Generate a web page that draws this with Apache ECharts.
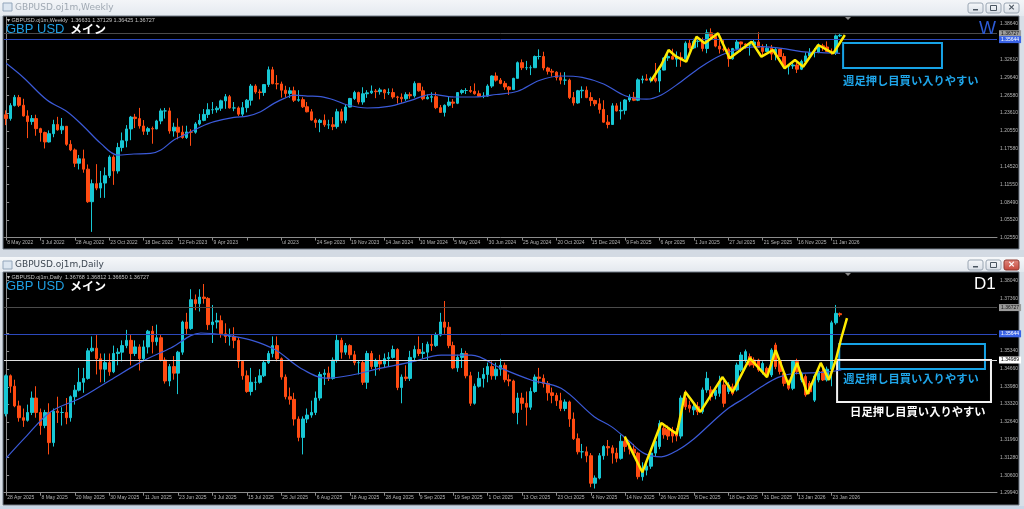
<!DOCTYPE html>
<html><head><meta charset="utf-8">
<script src="https://cdn.jsdelivr.net/npm/echarts@6/dist/echarts.min.js"></script>
<style>html,body{margin:0;padding:0;background:#d8dfe7;overflow:hidden}#c{width:1024px;height:509px}</style>
</head><body><div id="c"></div>
<script>
// ---------------- DATA ----------------
// weekly candles [open, close, low, high], first = week of 8 May 2022
const weeklyCandles = [
[1.2330,1.2265,1.2155,1.2405],[1.2265,1.2485,1.2230,1.2525],[1.2485,1.2625,1.2470,1.2665],[1.2620,1.2490,1.2460,1.2665],
[1.2490,1.2310,1.2300,1.2600],[1.2310,1.2215,1.1935,1.2406],[1.2215,1.2265,1.2160,1.2325],[1.2265,1.2095,1.1975,1.2330],
[1.2095,1.2030,1.1875,1.2110],[1.2030,1.1870,1.1760,1.2045],[1.1870,1.2010,1.1860,1.2065],[1.2010,1.2165,1.1950,1.2245],
[1.2165,1.2075,1.2060,1.2295],[1.2075,1.2135,1.2005,1.2275],[1.2135,1.1830,1.1805,1.2140],[1.1830,1.1735,1.1715,1.1900],
[1.1735,1.1510,1.1445,1.1760],[1.1510,1.1585,1.1405,1.1650],[1.1585,1.1410,1.1350,1.1740],[1.1410,1.0860,1.0840,1.1490],
[1.0860,1.1165,1.0350,1.1235],[1.1165,1.1090,1.1055,1.1495],[1.1090,1.1175,1.0925,1.1380],[1.1175,1.1300,1.0925,1.1440],
[1.1300,1.1615,1.1260,1.1645],[1.1615,1.1380,1.1145,1.1645],[1.1380,1.1775,1.1335,1.1855],[1.1775,1.1890,1.1710,1.2030],
[1.1890,1.2090,1.1780,1.2155],[1.2090,1.2290,1.1900,1.2310],[1.2290,1.2265,1.2105,1.2345],[1.2265,1.2140,1.2095,1.2446],
[1.2140,1.2050,1.1990,1.2240],[1.2050,1.2095,1.1990,1.2125],[1.2095,1.2090,1.1840,1.2130],[1.2090,1.2225,1.2085,1.2245],
[1.2225,1.2395,1.2170,1.2435],[1.2395,1.2395,1.2265,1.2445],[1.2395,1.2055,1.2010,1.2450],[1.2055,1.2120,1.1960,1.2195],
[1.2120,1.2035,1.1915,1.2270],[1.2035,1.1945,1.1925,1.2145],[1.1945,1.2040,1.1920,1.2145],[1.2040,1.2035,1.1805,1.2085],
[1.2035,1.2175,1.2010,1.2205],[1.2175,1.2235,1.2150,1.2345],[1.2235,1.2335,1.2220,1.2425],[1.2335,1.2415,1.2275,1.2525],
[1.2415,1.2415,1.2345,1.2545],[1.2415,1.2440,1.2365,1.2475],[1.2440,1.2565,1.2395,1.2585],[1.2565,1.2635,1.2430,1.2680],
[1.2635,1.2445,1.2435,1.2665],[1.2445,1.2445,1.2390,1.2545],[1.2445,1.2340,1.2310,1.2470],[1.2340,1.2450,1.2305,1.2545],
[1.2450,1.2575,1.2370,1.2595],[1.2575,1.2815,1.2485,1.2850],[1.2815,1.2715,1.2685,1.2845],[1.2715,1.2705,1.2590,1.2760],
[1.2705,1.2840,1.2650,1.2850],[1.2840,1.3090,1.2800,1.3145],[1.3090,1.2855,1.2845,1.3140],[1.2855,1.2850,1.2760,1.3000],
[1.2850,1.2745,1.2620,1.2890],[1.2745,1.2690,1.2620,1.2820],[1.2690,1.2735,1.2615,1.2795],[1.2735,1.2575,1.2545,1.2805],
[1.2575,1.2585,1.2550,1.2745],[1.2585,1.2465,1.2445,1.2625],[1.2465,1.2380,1.2370,1.2545],[1.2380,1.2240,1.2230,1.2425],
[1.2240,1.2200,1.2110,1.2270],[1.2200,1.2235,1.2035,1.2260],[1.2235,1.2160,1.2125,1.2335],[1.2160,1.2160,1.2090,1.2245],
[1.2160,1.2130,1.2070,1.2290],[1.2130,1.2380,1.2095,1.2430],[1.2380,1.2235,1.2185,1.2430],[1.2235,1.2460,1.2185,1.2505],
[1.2460,1.2605,1.2455,1.2615],[1.2605,1.2705,1.2580,1.2735],[1.2705,1.2545,1.2505,1.2720],[1.2545,1.2685,1.2500,1.2795],
[1.2685,1.2700,1.2615,1.2745],[1.2700,1.2730,1.2680,1.2825],[1.2730,1.2720,1.2610,1.2765],[1.2720,1.2750,1.2670,1.2785],
[1.2750,1.2700,1.2595,1.2765],[1.2700,1.2705,1.2665,1.2775],[1.2705,1.2630,1.2600,1.2775],[1.2630,1.2625,1.2520,1.2650],
[1.2625,1.2600,1.2535,1.2690],[1.2600,1.2670,1.2565,1.2710],[1.2670,1.2650,1.2600,1.2710],[1.2650,1.2860,1.2620,1.2895],
[1.2860,1.2735,1.2720,1.2865],[1.2735,1.2600,1.2575,1.2805],[1.2600,1.2625,1.2590,1.2675],[1.2625,1.2635,1.2540,1.2710],
[1.2635,1.2450,1.2425,1.2710],[1.2450,1.2370,1.2365,1.2495],[1.2370,1.2490,1.2300,1.2505],[1.2490,1.2545,1.2465,1.2635],
[1.2545,1.2525,1.2445,1.2595],[1.2525,1.2705,1.2510,1.2710],[1.2705,1.2740,1.2675,1.2760],[1.2740,1.2740,1.2680,1.2780],
[1.2740,1.2725,1.2700,1.2815],[1.2725,1.2685,1.2670,1.2860],[1.2685,1.2645,1.2630,1.2740],[1.2645,1.2645,1.2610,1.2710],
[1.2645,1.2815,1.2635,1.2845],[1.2815,1.2985,1.2785,1.2995],[1.2985,1.2915,1.2890,1.3045],[1.2915,1.2860,1.2845,1.2950],
[1.2860,1.2800,1.2750,1.2900],[1.2800,1.2755,1.2665,1.2815],[1.2755,1.2945,1.2750,1.2955],[1.2945,1.3210,1.2945,1.3230],
[1.3210,1.3125,1.3085,1.3265],[1.3125,1.3125,1.3085,1.3240],[1.3125,1.3125,1.3000,1.3165],[1.3125,1.3315,1.3120,1.3330],
[1.3315,1.3315,1.3265,1.3435],[1.3315,1.3120,1.3080,1.3395],[1.3120,1.3065,1.3010,1.3140],[1.3065,1.3050,1.2975,1.3105],
[1.3050,1.2960,1.2910,1.3065],[1.2960,1.2915,1.2845,1.3045],[1.2915,1.2915,1.2835,1.3050],[1.2915,1.2620,1.2595,1.2940],
[1.2620,1.2530,1.2485,1.2715],[1.2530,1.2735,1.2515,1.2750],[1.2735,1.2745,1.2610,1.2810],[1.2745,1.2620,1.2610,1.2810],
[1.2620,1.2570,1.2475,1.2710],[1.2570,1.2515,1.2475,1.2585],[1.2515,1.2420,1.2350,1.2610],[1.2420,1.2205,1.2195,1.2575],
[1.2205,1.2165,1.2100,1.2325],[1.2165,1.2480,1.2160,1.2525],[1.2480,1.2395,1.2385,1.2525],[1.2395,1.2405,1.2250,1.2550],
[1.2405,1.2580,1.2335,1.2595],[1.2580,1.2625,1.2545,1.2675],[1.2625,1.2575,1.2560,1.2715],[1.2575,1.2920,1.2560,1.2945],
[1.2920,1.2935,1.2860,1.2990],[1.2935,1.2915,1.2910,1.3015],[1.2915,1.2945,1.2875,1.2975],[1.2945,1.2900,1.2875,1.3205],
[1.2900,1.3085,1.2710,1.3145],[1.3085,1.3290,1.3080,1.3300],[1.3290,1.3315,1.3240,1.3425],[1.3315,1.3270,1.3265,1.3445],
[1.3270,1.3300,1.3140,1.3400],[1.3300,1.3275,1.3140,1.3385],[1.3275,1.3540,1.3260,1.3570],[1.3540,1.3460,1.3415,1.3595],
[1.3460,1.3570,1.3440,1.3615],[1.3570,1.3570,1.3470,1.3630],[1.3570,1.3450,1.3400,1.3635],[1.3450,1.3715,1.3370,1.3770],
[1.3715,1.3655,1.3615,1.3790],[1.3655,1.3490,1.3470,1.3680],[1.3490,1.3440,1.3365,1.3590],[1.3440,1.3435,1.3400,1.3590],
[1.3435,1.3275,1.3140,1.3465],[1.3275,1.3450,1.3260,1.3460],[1.3450,1.3560,1.3420,1.3595],[1.3560,1.3525,1.3390,1.3565],
[1.3525,1.3510,1.3445,1.3535],[1.3510,1.3510,1.3330,1.3535],[1.3510,1.3560,1.3500,1.3605],[1.3560,1.3470,1.3465,1.3725],
[1.3470,1.3400,1.3325,1.3520],[1.3400,1.3455,1.3395,1.3525],[1.3455,1.3355,1.3255,1.3510],[1.3355,1.3435,1.3250,1.3475],
[1.3435,1.3315,1.3305,1.3445],[1.3315,1.3150,1.3125,1.3370],[1.3150,1.3155,1.3010,1.3175],[1.3155,1.3170,1.3105,1.3215],
[1.3170,1.3100,1.3035,1.3205],[1.3100,1.3230,1.3085,1.3260],[1.3230,1.3325,1.3170,1.3385],[1.3325,1.3380,1.3290,1.3455],
[1.3380,1.3390,1.3300,1.3455],[1.3390,1.3495,1.3370,1.3535],[1.3495,1.3475,1.3410,1.3530],[1.3475,1.3400,1.3390,1.3570],
[1.3400,1.3375,1.3345,1.3450],[1.3375,1.3663,1.3340,1.3685],[1.36631,1.36727,1.36425,1.37129]
];
// weekly moving average [bar index, value]
const weeklyMA = [[0,1.3199],[4,1.2960],[9.5,1.2579],[14.2,1.2382],[18.1,1.2128],[22,1.1846],[25.9,1.1649],[29.7,1.1666],
[33.6,1.1677],[36,1.1734],[39,1.1903],[42.2,1.2015],[45.3,1.2128],[48.4,1.2213],[53,1.2286],[56.1,1.2308],[59.2,1.2382],
[62.3,1.2522],[64.7,1.2607],[67,1.2663],[70.1,1.2646],[73.2,1.2635],[76.3,1.2579],[79.4,1.2494],[84,1.2444],[89,1.2471],
[94,1.2569],[99,1.2674],[104,1.2631],[109,1.2630],[114,1.2672],[119,1.2728],[124,1.2909],[129,1.2985],[134,1.2962],
[139,1.2850],[144,1.2651],[149,1.2594],[152.4,1.2665],[157,1.2889],[161.7,1.3142],[166.4,1.3340],[171,1.3453],
[175.7,1.3481],[180.4,1.3453],[185,1.3396],[189.7,1.3379],[194,1.3369]];
// hand-drawn yellow zigzag on weekly chart
const weeklyZigzag = [[150,1.2900],[152.4,1.3171],[154.1,1.3424],[155.9,1.3311],[158.2,1.3227],[160.6,1.3649],[162.5,1.3538],
[165.6,1.3707],[168.3,1.3284],[173.4,1.3565],[175.7,1.3311],[178.4,1.3424],[181.1,1.3115],[183.5,1.3255],[185.4,1.3142],
[188.9,1.3509],[192.4,1.3368],[195.1,1.3678]];

// daily candles [open, close, low, high], first = 28 Apr 2025
const dailyCandles = [
[1.3295,1.3440,1.3285,1.3445],[1.3440,1.3400,1.3375,1.3445],[1.3400,1.3325,1.3320,1.3425],[1.3325,1.3280,1.3265,1.3345],
[1.3280,1.3270,1.3245,1.3315],[1.3270,1.3300,1.3265,1.3330],[1.3300,1.3355,1.3290,1.3380],[1.3355,1.3300,1.3280,1.3400],
[1.3300,1.3250,1.3215,1.3315],[1.3250,1.3300,1.3240,1.3310],[1.3300,1.3185,1.3140,1.3335],[1.3185,1.3305,1.3170,1.3315],
[1.3305,1.3300,1.3260,1.3360],[1.3300,1.3300,1.3250,1.3320],[1.3300,1.3280,1.3255,1.3355],[1.3280,1.3360,1.3265,1.3365],
[1.3360,1.3385,1.3330,1.3405],[1.3385,1.3415,1.3380,1.3470],[1.3415,1.3430,1.3375,1.3470],[1.3430,1.3535,1.3425,1.3545],
[1.3535,1.3545,1.3530,1.3590],[1.3545,1.3505,1.3445,1.3595],[1.3505,1.3465,1.3415,1.3525],[1.3465,1.3490,1.3415,1.3525],
[1.3490,1.3455,1.3440,1.3525],[1.3455,1.3525,1.3450,1.3555],[1.3525,1.3530,1.3480,1.3545],[1.3530,1.3555,1.3495,1.3575],
[1.3555,1.3575,1.3545,1.3615],[1.3575,1.3525,1.3480,1.3595],[1.3525,1.3550,1.3515,1.3575],[1.3550,1.3505,1.3460,1.3560],
[1.3505,1.3550,1.3495,1.3575],[1.3550,1.3610,1.3525,1.3615],[1.3610,1.3570,1.3525,1.3630],[1.3570,1.3585,1.3555,1.3635],
[1.3585,1.3500,1.3495,1.3595],[1.3500,1.3420,1.3410,1.3510],[1.3420,1.3475,1.3400,1.3485],[1.3475,1.3450,1.3425,1.3515],
[1.3450,1.3530,1.3370,1.3535],[1.3530,1.3645,1.3520,1.3650],[1.3645,1.3620,1.3595,1.3680],[1.3620,1.3730,1.3615,1.3770],
[1.3730,1.3715,1.3690,1.3750],[1.3715,1.3740,1.3685,1.3770],[1.3740,1.3735,1.3715,1.3790],[1.3735,1.3635,1.3615,1.3740],
[1.3635,1.3645,1.3565,1.3710],[1.3645,1.3650,1.3620,1.3680],[1.3650,1.3600,1.3585,1.3670],[1.3600,1.3590,1.3565,1.3640],
[1.3590,1.3590,1.3555,1.3620],[1.3590,1.3575,1.3545,1.3625],[1.3575,1.3495,1.3470,1.3585],[1.3495,1.3440,1.3425,1.3500],
[1.3440,1.3380,1.3375,1.3460],[1.3380,1.3415,1.3365,1.3470],[1.3415,1.3415,1.3385,1.3435],[1.3415,1.3440,1.3410,1.3465],
[1.3440,1.3490,1.3435,1.3500],[1.3490,1.3525,1.3485,1.3535],[1.3525,1.3555,1.3510,1.3590],[1.3555,1.3505,1.3495,1.3590],
[1.3505,1.3435,1.3425,1.3510],[1.3435,1.3360,1.3350,1.3445],[1.3360,1.3350,1.3330,1.3395],[1.3350,1.3275,1.3250,1.3375],
[1.3275,1.3205,1.3190,1.3285],[1.3205,1.3275,1.3140,1.3285],[1.3275,1.3290,1.3260,1.3315],[1.3290,1.3300,1.3280,1.3345],
[1.3300,1.3355,1.3290,1.3380],[1.3355,1.3445,1.3345,1.3455],[1.3445,1.3450,1.3405,1.3465],[1.3450,1.3430,1.3420,1.3475],
[1.3430,1.3500,1.3425,1.3510],[1.3500,1.3575,1.3490,1.3595],[1.3575,1.3530,1.3505,1.3585],[1.3530,1.3555,1.3520,1.3565],
[1.3555,1.3520,1.3505,1.3560],[1.3520,1.3490,1.3480,1.3535],[1.3490,1.3490,1.3445,1.3500],[1.3490,1.3415,1.3405,1.3500],
[1.3415,1.3525,1.3390,1.3535],[1.3525,1.3475,1.3465,1.3535],[1.3475,1.3495,1.3440,1.3505],[1.3495,1.3485,1.3460,1.3520],
[1.3485,1.3505,1.3470,1.3525],[1.3505,1.3510,1.3475,1.3530],[1.3510,1.3540,1.3505,1.3555],[1.3540,1.3395,1.3385,1.3545],
[1.3395,1.3435,1.3335,1.3445],[1.3435,1.3430,1.3420,1.3480],[1.3430,1.3510,1.3420,1.3535],[1.3510,1.3540,1.3500,1.3555],
[1.3540,1.3525,1.3515,1.3590],[1.3525,1.3530,1.3505,1.3565],[1.3530,1.3560,1.3500,1.3570],[1.3560,1.3555,1.3535,1.3595],
[1.3555,1.3595,1.3550,1.3605],[1.3595,1.3645,1.3590,1.3680],[1.3645,1.3625,1.3600,1.3725],[1.3625,1.3555,1.3545,1.3645],
[1.3555,1.3470,1.3465,1.3570],[1.3470,1.3510,1.3455,1.3520],[1.3510,1.3525,1.3470,1.3545],[1.3525,1.3440,1.3430,1.3535],
[1.3440,1.3335,1.3325,1.3455],[1.3335,1.3400,1.3330,1.3410],[1.3400,1.3430,1.3395,1.3455],[1.3430,1.3445,1.3395,1.3470],
[1.3445,1.3475,1.3415,1.3490],[1.3475,1.3440,1.3425,1.3495],[1.3440,1.3465,1.3425,1.3490],[1.3465,1.3480,1.3440,1.3505],
[1.3480,1.3425,1.3415,1.3490],[1.3425,1.3420,1.3400,1.3445],[1.3420,1.3300,1.3295,1.3425],[1.3300,1.3355,1.3255,1.3375],
[1.3355,1.3335,1.3310,1.3375],[1.3335,1.3320,1.3250,1.3380],[1.3320,1.3380,1.3310,1.3395],[1.3380,1.3435,1.3375,1.3445],
[1.3435,1.3430,1.3410,1.3470],[1.3430,1.3410,1.3395,1.3445],[1.3410,1.3375,1.3345,1.3420],[1.3375,1.3365,1.3335,1.3395],
[1.3365,1.3345,1.3325,1.3375],[1.3345,1.3315,1.3305,1.3375],[1.3315,1.3340,1.3305,1.3350],[1.3340,1.3275,1.3245,1.3345],
[1.3275,1.3200,1.3195,1.3300],[1.3200,1.3150,1.3140,1.3220],[1.3150,1.3150,1.3125,1.3180],[1.3150,1.3135,1.3110,1.3170],
[1.3135,1.3030,1.3015,1.3145],[1.3030,1.3050,1.3010,1.3060],[1.3050,1.3135,1.3045,1.3145],[1.3135,1.3170,1.3120,1.3175],
[1.3170,1.3165,1.3135,1.3195],[1.3165,1.3145,1.3105,1.3175],[1.3145,1.3125,1.3110,1.3165],[1.3125,1.3190,1.3120,1.3215],
[1.3190,1.3170,1.3150,1.3205],[1.3170,1.3160,1.3140,1.3185],[1.3160,1.3145,1.3135,1.3180],[1.3145,1.3055,1.3045,1.3150],
[1.3055,1.3080,1.3040,1.3110],[1.3080,1.3095,1.3060,1.3115],[1.3095,1.3145,1.3085,1.3160],[1.3145,1.3190,1.3130,1.3200],
[1.3170,1.3258,1.3160,1.3270],[1.3240,1.3215,1.3200,1.3260],[1.3235,1.3210,1.3195,1.3250],[1.3232,1.3210,1.3185,1.3245],
[1.3228,1.3210,1.3190,1.3240],[1.3210,1.3355,1.3200,1.3365],[1.3355,1.3322,1.3310,1.3385],[1.3328,1.3316,1.3300,1.3345],
[1.3310,1.3322,1.3290,1.3340],[1.3322,1.3303,1.3290,1.3340],[1.3303,1.3386,1.3295,1.3395],[1.3386,1.3430,1.3375,1.3455],
[1.3386,1.3360,1.3345,1.3400],[1.3365,1.3385,1.3350,1.3395],[1.3373,1.3417,1.3360,1.3440],[1.3405,1.3335,1.3320,1.3420],
[1.3380,1.3405,1.3370,1.3415],[1.3398,1.3372,1.3365,1.3410],[1.3386,1.3481,1.3380,1.3490],[1.3462,1.3519,1.3455,1.3530],
[1.3500,1.3532,1.3490,1.3540],[1.3513,1.3481,1.3475,1.3525],[1.3500,1.3481,1.3470,1.3510],[1.3500,1.3462,1.3455,1.3505],
[1.3456,1.3487,1.3445,1.3495],[1.3468,1.3443,1.3435,1.3475],[1.3443,1.3538,1.3435,1.3545],[1.3557,1.3475,1.3465,1.3566],
[1.3494,1.3456,1.3445,1.3500],[1.3449,1.3411,1.3400,1.3455],[1.3417,1.3392,1.3385,1.3425],[1.3392,1.3494,1.3385,1.3500],
[1.3494,1.3456,1.3445,1.3505],[1.3424,1.3449,1.3415,1.3455],[1.3437,1.3367,1.3360,1.3445],[1.3411,1.3379,1.3370,1.3420],
[1.3347,1.3439,1.3340,1.3445],[1.3424,1.3456,1.3415,1.3465],[1.3456,1.3424,1.3420,1.3470],[1.3424,1.3465,1.3418,1.3475],
[1.3465,1.3642,1.3400,1.3650],[1.3642,1.3678,1.3635,1.3710],[1.36768,1.36727,1.36650,1.36812]
];
const dailyMA = [[0,1.3126],[4.5,1.3206],[10.3,1.3302],[17.3,1.3355],[24.3,1.3424],[31.3,1.3492],[38.3,1.3546],[45.3,1.3603],
[51,1.3595],[57,1.3576],[62.7,1.3538],[68.5,1.3469],[74.4,1.3431],[80.2,1.3442],[87.2,1.3469],[94.2,1.3492],[101.2,1.3519],
[108.2,1.3519],[115.1,1.3469],[122.1,1.3424],[129.1,1.3392],[136.8,1.3284],[140.8,1.3246],[144.6,1.3195],[148.4,1.3144],
[152.4,1.3131],[156.3,1.3157],[160.1,1.3201],[164,1.3259],[168,1.3316],[171.7,1.3354],[175.7,1.3398],[179.6,1.3434],
[183.4,1.3449],[187.3,1.3451],[191.2,1.3455],[194.3,1.3462]];
const dailyZigzag = [[143.9,1.3208],[148,1.3072],[152.4,1.3260],[156,1.3218],[158,1.3378],[161.5,1.3302],[166.6,1.3435],
[169,1.3378],[173,1.3507],[177,1.3435],[179,1.3538],[182,1.3405],[184,1.3489],[186.4,1.3370],[189.5,1.3489],[191.4,1.3424],
[193,1.3500],[194.3,1.3585],[195.6,1.3660]];

const weeklyTickLabels = ['8 May 2022','3 Jul 2022','28 Aug 2022','23 Oct 2022','18 Dec 2022','12 Feb 2023','9 Apr 2023','',
'ul 2023','24 Sep 2023','19 Nov 2023','14 Jan 2024','10 Mar 2024','5 May 2024','30 Jun 2024','25 Aug 2024','20 Oct 2024',
'15 Dec 2024','9 Feb 2025','6 Apr 2025','1 Jun 2025','27 Jul 2025','21 Sep 2025','16 Nov 2025','11 Jan 2026'];
const dailyTickLabels = ['28 Apr 2025','8 May 2025','20 May 2025','30 May 2025','11 Jun 2025','23 Jun 2025','3 Jul 2025',
'15 Jul 2025','25 Jul 2025','6 Aug 2025','18 Aug 2025','28 Aug 2025','9 Sep 2025','19 Sep 2025','1 Oct 2025','13 Oct 2025',
'23 Oct 2025','4 Nov 2025','14 Nov 2025','26 Nov 2025','8 Dec 2025','18 Dec 2025','31 Dec 2025','13 Jan 2026','23 Jan 2026'];
const weeklyPriceTicks = [1.38640,1.32610,1.29640,1.26580,1.23610,1.20550,1.17580,1.14520,1.11550,1.08490,1.05520,1.02550];
const dailyPriceTicks = [1.38040,1.37360,1.36020,1.35340,1.34660,1.33980,1.33320,1.32640,1.31960,1.31280,1.30600,1.29940];
const bidPrice = 1.36727;
const bluePrice = 1.35644;
const whitePrice = 1.34989;
const weeklyHeader = 'GBPUSD.oj1m,Weekly  1.36631 1.37129 1.36425 1.36727';
const dailyHeader = 'GBPUSD.oj1m,Daily  1.36768 1.36812 1.36650 1.36727';
const annoText = '週足押し目買い入りやすい';
const annoText2 = '日足押し目買い入りやすい';

// ---------------- LAYOUT / STYLE ----------------
const SLOTS = 231, STEP = 8;
const BULL = '#17c7d4', BEAR = '#ff4b12';
const slots = Array.from({length: SLOTS}, (_, i) => String(i));
const AX = '#8c8c8c', LBL = '#b4b4b4', LF = '"Liberation Sans", Arial, sans-serif';
const JP = '"Noto Sans CJK JP", sans-serif';

function catAxis(grid, labels) {
  const show = (i) => i % STEP === 0 && i / STEP < labels.length;
  return {type: 'category', gridIndex: grid, data: slots, boundaryGap: true,
    axisLine: {show: true, lineStyle: {color: AX, width: 1}},
    axisTick: {show: true, alignWithLabel: true, interval: show, length: 3, lineStyle: {color: AX}},
    axisLabel: {show: true, interval: show, formatter: (v, i) => labels[i / STEP] || '', align: 'left',
      margin: 2.5, color: LBL, fontSize: 5, fontFamily: LF, padding: [0, 0, 0, 1]},
    splitLine: {show: false}};
}
function valX(grid) { return {type: 'value', gridIndex: grid, min: -0.5, max: SLOTS - 0.5, show: false}; }
function priceAxis(grid, min, max, ticks) {
  return {type: 'value', gridIndex: grid, position: 'right', min, max, scale: true,
    axisLine: {show: true, lineStyle: {color: AX, width: 1}},
    axisTick: {show: true, customValues: ticks, length: 3, lineStyle: {color: AX}},
    axisLabel: {show: true, customValues: ticks, formatter: v => v.toFixed(5), color: LBL, fontSize: 5,
      fontFamily: LF, margin: 3},
    splitLine: {show: false}};
}
function hLine(v, color, bg, fg) {
  return {yAxis: v, lineStyle: {color, width: 1, type: 'solid'},
    label: {show: true, position: 'end', distance: 2, formatter: () => v.toFixed(5), backgroundColor: bg,
      color: fg, fontSize: 5, fontFamily: LF, padding: [1, 2, 1, 2]}};
}
function candles(xi, yi, data, lines) {
  return {type: 'candlestick', xAxisIndex: xi, yAxisIndex: yi, data, barWidth: 3, silent: true,
    itemStyle: {color: BULL, color0: BEAR, borderColor: BULL, borderColor0: BEAR, borderWidth: 1},
    markLine: {silent: true, symbol: ['none', 'none'], animation: false, data: lines}};
}
function line(xi, yi, data, color, width, z, extra) {
  return Object.assign({type: 'line', xAxisIndex: xi, yAxisIndex: yi, data, showSymbol: false, silent: true,
    lineStyle: {color, width}, z}, extra || {});
}
function box(x0, y0, x1, y1, color, text, textColor, pad) {
  return [{coord: [x0, y0], itemStyle: {color: 'rgba(0,0,0,0)', borderColor: color, borderWidth: 2},
    label: {show: !!text, formatter: text || '', position: [pad[0], '100%'], align: 'left', verticalAlign: 'top',
      padding: [pad[1], 0, 0, 0], color: textColor, fontSize: 11.3, fontWeight: 'bold', fontFamily: JP}},
    {coord: [x1, y1]}];
}

const WMIN = 1.0255, WMAX = 1.39822, DMIN = 1.2994, DMAX = 1.38319;

const grad = (a, b) => ({type: 'linear', x: 0, y: 0, x2: 0, y2: 1, colorStops: [{offset: 0, color: a}, {offset: 1, color: b}]});
function buttons(y, active) {
  const els = [];
  const xs = [968, 986, 1004];
  xs.forEach((x, k) => {
    const red = active && k === 2;
    els.push({type: 'rect', shape: {x, y, width: 15, height: 10, r: 2},
      style: {fill: red ? grad('#e08a80', '#c5463a') : grad('#f7f9fb', '#d8dee6'), stroke: red ? '#8f3a32' : '#9aa6b3', lineWidth: 1}, z: 50});
  });
  els.push({type: 'rect', shape: {x: 973, y: y + 6, width: 5, height: 1.5}, style: {fill: '#4a5560'}, z: 51});
  els.push({type: 'rect', shape: {x: 990.5, y: y + 2.5, width: 6, height: 5}, style: {fill: 'none', stroke: '#4a5560', lineWidth: 1}, z: 51});
  els.push({type: 'text', x: 1011.5, y: y + 5, style: {text: '×', fill: active ? '#fff' : '#4a5560', font: 'bold 9px "DejaVu Sans"', align: 'center', verticalAlign: 'middle'}, z: 51});
  return els;
}
const graphics = [
  {type: 'rect', shape: {x: 0, y: 0, width: 1024, height: 16}, style: {fill: grad('#f3f5f8', '#e4e9ef')}, z: 0},
  {type: 'rect', shape: {x: 3, y: 16, width: 1016, height: 233}, style: {fill: '#000', stroke: '#6f7884', lineWidth: 1}, z: 0},
  {type: 'rect', shape: {x: 0, y: 250, width: 1024, height: 7}, style: {fill: '#d3dae3'}, z: 0},
  {type: 'rect', shape: {x: 0, y: 257, width: 1024, height: 15}, style: {fill: grad('#f6f8fa', '#e3e8ee')}, z: 0},
  {type: 'rect', shape: {x: 3, y: 272, width: 1016, height: 233}, style: {fill: '#000', stroke: '#6f7884', lineWidth: 1}, z: 0},
  {type: 'rect', shape: {x: 0, y: 506, width: 1024, height: 3}, style: {fill: '#c9d6e6'}, z: 0},
  {type: 'rect', shape: {x: 3, y: 3, width: 9, height: 8}, style: {fill: '#dbe5f0', stroke: '#93a6bb', lineWidth: 1}, z: 1},
  {type: 'text', x: 15, y: 7.5, style: {text: 'GBPUSD.oj1m,Weekly', fill: '#a0a9b3', font: '9px "DejaVu Sans"', verticalAlign: 'middle'}, z: 1},
  {type: 'rect', shape: {x: 3, y: 261, width: 9, height: 8}, style: {fill: '#dbe5f0', stroke: '#93a6bb', lineWidth: 1}, z: 1},
  {type: 'text', x: 15, y: 265, style: {text: 'GBPUSD.oj1m,Daily', fill: '#3c4651', font: '9px "DejaVu Sans"', verticalAlign: 'middle'}, z: 1},
  ...buttons(3, false), ...buttons(260, true),
  {type: 'text', x: 7, y: 20.5, style: {text: '▾ ' + weeklyHeader, fill: '#c4c4c4', font: '5.5px ' + LF, verticalAlign: 'middle'}, z: 100},
  {type: 'text', x: 6, y: 29.5, style: {text: 'GBP USD', fill: '#1f9fe2', font: '13px ' + LF, verticalAlign: 'middle'}, z: 100},
  {type: 'text', x: 70, y: 29.5, style: {text: 'メイン', fill: '#ffffff', font: 'bold 12px ' + JP, verticalAlign: 'middle'}, z: 100},
  {type: 'text', x: 7, y: 277, style: {text: '▾ ' + dailyHeader, fill: '#c4c4c4', font: '5.5px ' + LF, verticalAlign: 'middle'}, z: 100},
  {type: 'text', x: 6, y: 286, style: {text: 'GBP USD', fill: '#1f9fe2', font: '13px ' + LF, verticalAlign: 'middle'}, z: 100},
  {type: 'text', x: 70, y: 286, style: {text: 'メイン', fill: '#ffffff', font: 'bold 12px ' + JP, verticalAlign: 'middle'}, z: 100},
  {type: 'text', x: 979, y: 29, style: {text: 'W', fill: '#2d5bd6', font: '18px ' + LF, verticalAlign: 'middle'}, z: 100},
  {type: 'text', x: 974, y: 284.5, style: {text: 'D1', fill: '#ffffff', font: '17px ' + LF, verticalAlign: 'middle'}, z: 100},
  {type: 'polygon', shape: {points: [[845, 17], [851, 17], [848, 20]]}, style: {fill: '#8a8a8a'}, z: 100},
  {type: 'polygon', shape: {points: [[845, 273], [851, 273], [848, 276]]}, style: {fill: '#8a8a8a'}, z: 100}
];

const option = {
  backgroundColor: '#d8dfe7',
  animation: false,
  graphic: graphics,
  grid: [
    {left: 4, top: 17, width: 993, height: 220.5, containLabel: false},
    {left: 4, top: 273, width: 993, height: 219.7, containLabel: false}
  ],
  xAxis: [catAxis(0, weeklyTickLabels), valX(0), catAxis(1, dailyTickLabels), valX(1)],
  yAxis: [priceAxis(0, WMIN, WMAX, weeklyPriceTicks), priceAxis(1, DMIN, DMAX, dailyPriceTicks)],
  series: [
    candles(0, 0, weeklyCandles, [hLine(bidPrice, '#4b4b4b', '#9b9b9b', '#111'), hLine(bluePrice, '#2c49bd', '#3a63e6', '#fff')]),
    line(1, 0, weeklyMA, '#3b5ad8', 1.2, 3, {smooth: 0.35}),
    line(1, 0, weeklyZigzag, '#ffea00', 2.5, 5, {markArea: {silent: true, animation: false,
      data: [box(194.7, 1.3543, 217.7, 1.3120, '#17a3e6', annoText, '#1fa6ea', [1, 6])]}}),
    candles(2, 1, dailyCandles, [hLine(bidPrice, '#4b4b4b', '#9b9b9b', '#111'), hLine(bluePrice, '#2c49bd', '#3a63e6', '#fff'),
      hLine(whitePrice, '#e0e0e0', '#ffffff', '#000')]),
    line(3, 1, dailyMA, '#3b5ad8', 1.2, 3, {smooth: 0.35}),
    line(3, 1, dailyZigzag, '#ffea00', 2.5, 5, {markArea: {silent: true, animation: false,
      data: [box(193.8, 1.35611, 227.7, 1.34658, '#17a3e6', annoText, '#1fa6ea', [5, 3]),
             box(193.3, 1.35001, 229.1, 1.33399, '#f2f2f2', annoText2, '#ffffff', [14, 3])]}})
  ]
};
const chart = echarts.init(document.getElementById('c'), null, {renderer: 'canvas'});
chart.setOption(option);
</script></body></html>
